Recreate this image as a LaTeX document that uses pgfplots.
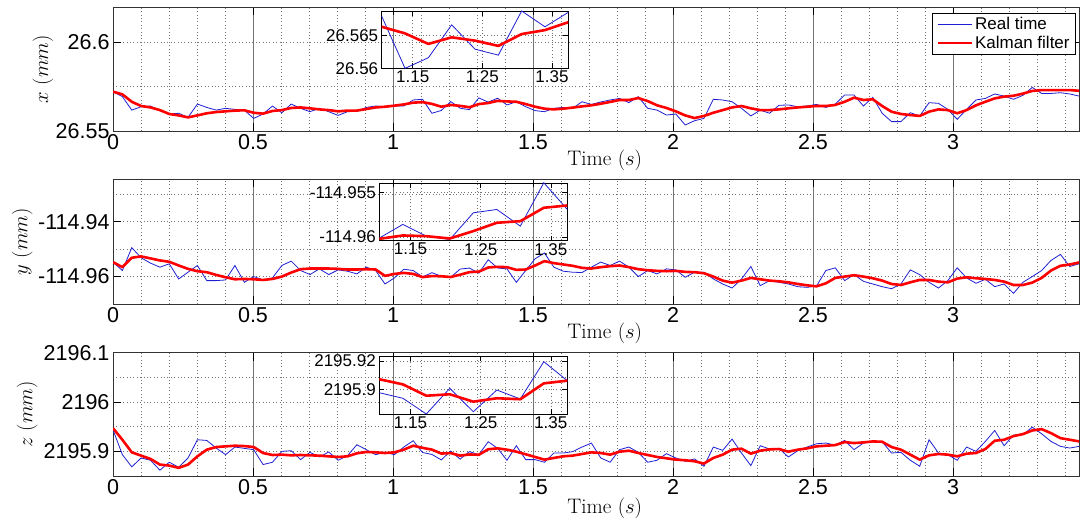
\documentclass[border=0pt]{standalone}
\usepackage{pgfplots}
\pgfplotsset{compat=1.18}
\usepackage{pgfplotstable}
\usepackage{fontspec}
\newfontfamily\arial{Liberation Sans}

\pgfplotstableread{
t xb xr yb yr zb zr
0 26.5722 26.5722 -114.95472 -114.95472 2195.9436 2195.9470
0.0335 26.5694 26.5707 -114.95779 -114.95656 2195.8933 2195.9235
0.067 26.5618 26.5665 -114.94945 -114.95313 2195.8685 2195.8980
0.1005 26.5637 26.5641 -114.95313 -114.95264 2195.8866 2195.8913
0.134 26.5641 26.5633 -114.95509 -114.95337 2195.8819 2195.8846
0.1675 26.5615 26.5618 -114.95656 -114.95411 2195.8618 2195.8732
0.201 26.5596 26.5596 -114.95534 -114.95460 2195.8779 2195.8711
0.2345 26.5600 26.5588 -114.96086 -114.95595 2195.8678 2195.8665
0.268 26.5577 26.5577 -114.95840 -114.95718 2195.8866 2195.8732
0.3015 26.5652 26.5588 -114.95595 -114.95804 2195.9235 2195.8899
0.335 26.5633 26.5600 -114.96147 -114.95840 2195.9221 2195.9034
0.3685 26.5618 26.5607 -114.96147 -114.95939 2195.9067 2195.9087
0.402 26.5628 26.5611 -114.96123 -114.96025 2195.8933 2195.9101
0.4355 26.5622 26.5615 -114.95595 -114.96098 2195.9087 2195.9114
0.469 26.5618 26.5617 -114.96209 -114.96086 2195.9060 2195.9107
0.5025 26.5571 26.5603 -114.96000 -114.96098 2195.9034 2195.9087
0.536 26.5596 26.5598 -114.96123 -114.96123 2195.8732 2195.8966
0.5695 26.5641 26.5613 -114.96049 -114.96086 2195.8779 2195.8926
0.603 26.5603 26.5618 -114.95595 -114.96000 2195.9000 2195.8933
0.6365 26.5652 26.5630 -114.95436 -114.95853 2195.9013 2195.8919
0.67 26.5628 26.5633 -114.95779 -114.95730 2195.8832 2195.8926
0.7035 26.5609 26.5628 -114.95926 -114.95706 2195.8980 2195.8919
0.737 26.5628 26.5622 -114.95718 -114.95706 2195.8886 2195.8913
0.7705 26.5609 26.5618 -114.95926 -114.95706 2195.8987 2195.8899
0.804 26.5588 26.5611 -114.95755 -114.95718 2195.8819 2195.8886
0.8375 26.5609 26.5615 -114.95804 -114.95742 2195.8913 2195.8899
0.871 26.5611 26.5615 -114.95902 -114.95742 2195.9134 2195.8960
0.9045 26.5633 26.5624 -114.95656 -114.95730 2195.9034 2195.8987
0.938 26.5641 26.5633 -114.95779 -114.95742 2195.8933 2195.8980
0.9715 26.5637 26.5637 -114.96270 -114.95975 2195.8980 2195.8966
1.005 26.5641 26.5643 -114.96049 -114.95902 2195.8933 2195.8980
1.0385 26.5641 26.5650 -114.95730 -114.95865 2195.9087 2195.9034
1.072 26.5675 26.5660 -114.95779 -114.95902 2195.9215 2195.9114
1.1055 26.5679 26.5663 -114.96010 -114.96019 2195.8976 2195.9071
1.139 26.5600 26.5653 -114.95857 -114.95981 2195.8937 2195.9035
1.1725 26.5616 26.5637 -114.95989 -114.95989 2195.8826 2195.8955
1.206 26.5666 26.5647 -114.96026 -114.96015 2195.9007 2195.8965
1.2395 26.5629 26.5642 -114.95726 -114.95932 2195.8842 2195.8913
1.273 26.5620 26.5634 -114.95688 -114.95838 2195.8995 2195.8937
1.3065 26.5687 26.5652 -114.95876 -114.95820 2195.8932 2195.8930
1.34 26.5663 26.5658 -114.95387 -114.95669 2195.9195 2195.9042
1.3735 26.5685 26.5670 -114.95688 -114.95643 2195.9061 2195.9061
1.407 26.5647 26.5667 -114.95718 -114.95656 2195.8819 2195.9034
1.4405 26.5665 26.5665 -114.96209 -114.95755 2195.9114 2195.8993
1.474 26.5637 26.5652 -114.95779 -114.95742 2195.8832 2195.8940
1.5075 26.5615 26.5637 -114.95350 -114.95595 2195.8832 2195.8886
1.541 26.5609 26.5626 -114.95141 -114.95436 2195.8779 2195.8832
1.5745 26.5628 26.5622 -114.95656 -114.95509 2195.8966 2195.8866
1.608 26.5633 26.5626 -114.95804 -114.95558 2195.8966 2195.8899
1.6415 26.5628 26.5632 -114.95840 -114.95607 2195.8993 2195.8913
1.675 26.5665 26.5639 -114.95853 -114.95681 2195.9087 2195.8946
1.7085 26.5650 26.5645 -114.95656 -114.95706 2195.9168 2195.8980
1.742 26.5664 26.5654 -114.95472 -114.95656 2195.8866 2195.8966
1.7755 26.5675 26.5664 -114.95595 -114.95620 2195.8779 2195.8933
1.809 26.5684 26.5675 -114.95436 -114.95595 2195.9034 2195.8993
1.8425 26.5660 26.5675 -114.95656 -114.95656 2195.9087 2195.9013
1.876 26.5694 26.5686 -114.96000 -114.95730 2195.8980 2195.8966
1.9095 26.5628 26.5669 -114.95779 -114.95767 2195.8779 2195.8926
1.943 26.5618 26.5645 -114.95902 -114.95791 2195.8819 2195.8886
1.9765 26.5590 26.5630 -114.95718 -114.95804 2195.8953 2195.8859
2.01 26.5596 26.5611 -114.95755 -114.95791 2195.8866 2195.8832
2.0435 26.5534 26.5588 -114.96025 -114.95828 2195.8799 2195.8819
2.077 26.5558 26.5573 -114.95840 -114.95840 2195.8846 2195.8799
2.1105 26.5571 26.5585 -114.95840 -114.95877 2195.8698 2195.8752
2.144 26.5679 26.5603 -114.96086 -114.96000 2195.9087 2195.8866
2.1775 26.5675 26.5618 -114.96270 -114.96147 2195.9020 2195.8933
2.211 26.5665 26.5633 -114.96417 -114.96221 2195.9248 2195.9034
2.2445 26.5628 26.5641 -114.96086 -114.96147 2195.8966 2195.9054
2.278 26.5585 26.5628 -114.95632 -114.96049 2195.8711 2195.8953
2.3115 26.5618 26.5618 -114.96331 -114.96098 2195.9114 2195.9013
2.345 26.5600 26.5618 -114.96147 -114.96147 2195.9047 2195.9040
2.3785 26.5645 26.5622 -114.96209 -114.96172 2195.9060 2195.9047
2.412 26.5647 26.5628 -114.96270 -114.96209 2195.8886 2195.8993
2.4455 26.5637 26.5633 -114.96368 -114.96270 2195.9013 2195.9034
2.479 26.5641 26.5637 -114.96393 -114.96319 2195.9087 2195.9060
2.5125 26.5650 26.5641 -114.96344 -114.96356 2195.9154 2195.9101
2.546 26.5633 26.5641 -114.95779 -114.96245 2195.9168 2195.9114
2.5795 26.5652 26.5647 -114.95681 -114.96049 2195.9127 2195.9127
2.613 26.5703 26.5665 -114.96147 -114.96000 2195.9221 2195.9188
2.6465 26.5703 26.5688 -114.95926 -114.95951 2195.9034 2195.9168
2.68 26.5641 26.5675 -114.96172 -114.96000 2195.9168 2195.9181
2.7135 26.5690 26.5679 -114.96270 -114.96061 2195.9201 2195.9201
2.747 26.5600 26.5641 -114.96368 -114.96147 2195.9195 2195.9195
2.7805 26.5553 26.5609 -114.96442 -114.96270 2195.8966 2195.9087
2.814 26.5553 26.5596 -114.96270 -114.96307 2195.8980 2195.9034
2.8475 26.5603 26.5590 -114.95755 -114.96209 2195.8819 2195.8933
2.881 26.5585 26.5585 -114.95926 -114.96123 2195.8698 2195.8832
2.9145 26.5660 26.5609 -114.96209 -114.96123 2195.9235 2195.8919
2.948 26.5656 26.5622 -114.96417 -114.96184 2195.8966 2195.8946
2.9815 26.5622 26.5618 -114.96147 -114.96209 2195.8933 2195.8933
3.015 26.5566 26.5600 -114.95681 -114.96074 2195.8819 2195.8899
3.0485 26.5622 26.5618 -114.96049 -114.96025 2195.9087 2195.8953
3.082 26.5675 26.5645 -114.96245 -114.96061 2195.9000 2195.8966
3.1155 26.5684 26.5665 -114.96098 -114.96086 2195.9201 2195.9047
3.149 26.5709 26.5684 -114.96368 -114.96123 2195.9423 2195.9215
3.1825 26.5697 26.5694 -114.96270 -114.96184 2195.9114 2195.9235
3.216 26.5679 26.5699 -114.96614 -114.96307 2195.9329 2195.9309
3.2495 26.5701 26.5711 -114.96209 -114.96307 2195.9336 2195.9349
3.283 26.5746 26.5726 -114.96000 -114.96221 2195.9490 2195.9423
3.3165 26.5712 26.5731 -114.95779 -114.96049 2195.9356 2195.9450
3.35 26.5712 26.5731 -114.95411 -114.95779 2195.9201 2195.9369
3.3835 26.5716 26.5731 -114.95190 -114.95607 2195.9101 2195.9268
3.417 26.5709 26.5731 -114.95632 -114.95558 2195.9067 2195.9235
3.4505 26.5697 26.5727 -114.95534 -114.95485 2195.9101 2195.9201
}\data

\definecolor{rtblue}{RGB}{30,30,210}

\pgfplotsset{
  mainax/.style={
    scale only axis, width=966pt, anchor=south west,
    xmin=0, xmax=3.45,
    xtick={0,0.5,1,1.5,2,2.5,3},
    xticklabels={0,0.5,1,1.5,2,2.5,3},
    minor xtick={0.1,0.2,0.3,0.4,0.6,0.7,0.8,0.9,1.1,1.2,1.3,1.4,1.6,1.7,1.8,1.9,2.1,2.2,2.3,2.4,2.6,2.7,2.8,2.9,3.1,3.2,3.3,3.4},
    grid=both,
    major x grid style={solid, black!55, line width=0.9pt},
    major y grid style={black!55, line width=0.6pt, dash pattern=on 0.8pt off 2.6pt},
    minor grid style={black!55, line width=0.6pt, dash pattern=on 0.8pt off 2.6pt},
    tick align=inside, major tick length=8pt, minor tick length=0pt,
    every tick/.style={black, line width=0.7pt},
    axis line style={black!80, line width=0.9pt},
    tick label style={font=\arial\fontsize{21.5}{24}\selectfont},
    xlabel={Time $(s)$},
    xlabel style={font=\fontsize{21}{24}\selectfont, at={(axis description cs:0.509,0)}, anchor=center, yshift=-29pt},
    ylabel style={font=\fontsize{21}{24}\selectfont, anchor=center},
    scaled ticks=false,
  },
  insetax/.style={
    scale only axis, anchor=south west,
    xmin=1.1055, xmax=1.3735,
    xtick={1.15,1.25,1.35},
    xticklabels={1.15,1.25,1.35},
    grid=major,
    major grid style={black!55, line width=0.6pt, dash pattern=on 0.8pt off 2.6pt},
    tick align=inside, major tick length=5pt,
    every tick/.style={black, line width=0.6pt},
    axis line style={black, line width=0.9pt},
    tick label style={font=\arial\fontsize{17}{20}\selectfont},
    xticklabel style={yshift=1pt},
    scaled ticks=false,
  },
  blueline/.style={rtblue, line width=0.8pt},
  redline/.style={red, line width=2.6pt, line join=round},
}

\begin{document}
\begin{tikzpicture}
\path[use as bounding box] (0,0) rectangle (1081pt,525pt);

% ---------- top: x ----------
\begin{axis}[mainax, at={(113pt,394pt)}, height=124pt,
  ymin=26.55, ymax=26.62,
  ytick={26.55,26.6}, yticklabels={26.55,26.6},
  minor ytick={26.575},
  ylabel={$x\ (mm)$},
  ylabel style={at={(axis description cs:-0.0724,0.5)}},
  legend style={at={(rel axis cs:0.9969,0.9516)}, anchor=north east,
    draw=black, line width=0.8pt, fill=white,
    font=\arial\fontsize{17}{20}\selectfont,
    inner xsep=4pt, inner ysep=2pt, row sep=1pt},
  legend cell align=left,
  legend image code/.code={\draw[#1] (0pt,0pt) -- (34pt,0pt);},
]
\addplot[blueline] table[x=t, y=xb] {\data};
\addlegendentry{Real time}
\addplot[redline] table[x=t, y=xr] {\data};
\addlegendentry{Kalman filter}
\end{axis}
\begin{axis}[insetax, at={(381.7pt,456.7pt)}, width=186.6pt, height=57.3pt,
  ymin=26.56, ymax=26.5687,
  ytick={26.56,26.565}, yticklabels={26.56,26.565}]
\addplot[blueline] table[x=t, y=xb] {\data};
\addplot[redline] table[x=t, y=xr] {\data};
\end{axis}

% ---------- middle: y ----------
\begin{axis}[mainax, at={(113pt,221pt)}, height=125pt,
  ymin=-114.97, ymax=-114.9244,
  ytick={-114.96,-114.94}, yticklabels={-114.96,-114.94},
  minor ytick={-114.95,-114.93},
  ylabel={$y\ (mm)$},
  ylabel style={at={(axis description cs:-0.0941,0.5)}},
]
\addplot[blueline] table[x=t, y=yb] {\data};
\addplot[redline] table[x=t, y=yr] {\data};
\end{axis}
\begin{axis}[insetax, at={(379.3pt,284.3pt)}, width=188pt, height=57.7pt,
  ymin=-114.9604, ymax=-114.9539,
  ytick={-114.96,-114.955}, yticklabels={-114.96,-114.955}]
\addplot[blueline] table[x=t, y=yb] {\data};
\addplot[redline] table[x=t, y=yr] {\data};
\end{axis}

% ---------- bottom: z ----------
\begin{axis}[mainax, at={(113pt,49pt)}, height=123.3pt,
  ymin=2195.85, ymax=2196.1,
  ytick={2195.9,2196,2196.1}, yticklabels={2195.9,2196,2196.1},
  minor ytick={2195.95,2196.05},
  ylabel={$z\ (mm)$},
  ylabel style={at={(axis description cs:-0.0889,0.5)}},
  xlabel style={yshift=-3pt},
]
\addplot[blueline] table[x=t, y=zb] {\data};
\addplot[redline] table[x=t, y=zr] {\data};
\end{axis}
\begin{axis}[insetax, at={(379.3pt,111pt)}, width=188pt, height=58pt,
  ymin=2195.8826, ymax=2195.9235,
  ytick={2195.9,2195.92}, yticklabels={2195.9,2195.92}]
\addplot[blueline] table[x=t, y=zb] {\data};
\addplot[redline] table[x=t, y=zr] {\data};
\end{axis}
\end{tikzpicture}
\end{document}
